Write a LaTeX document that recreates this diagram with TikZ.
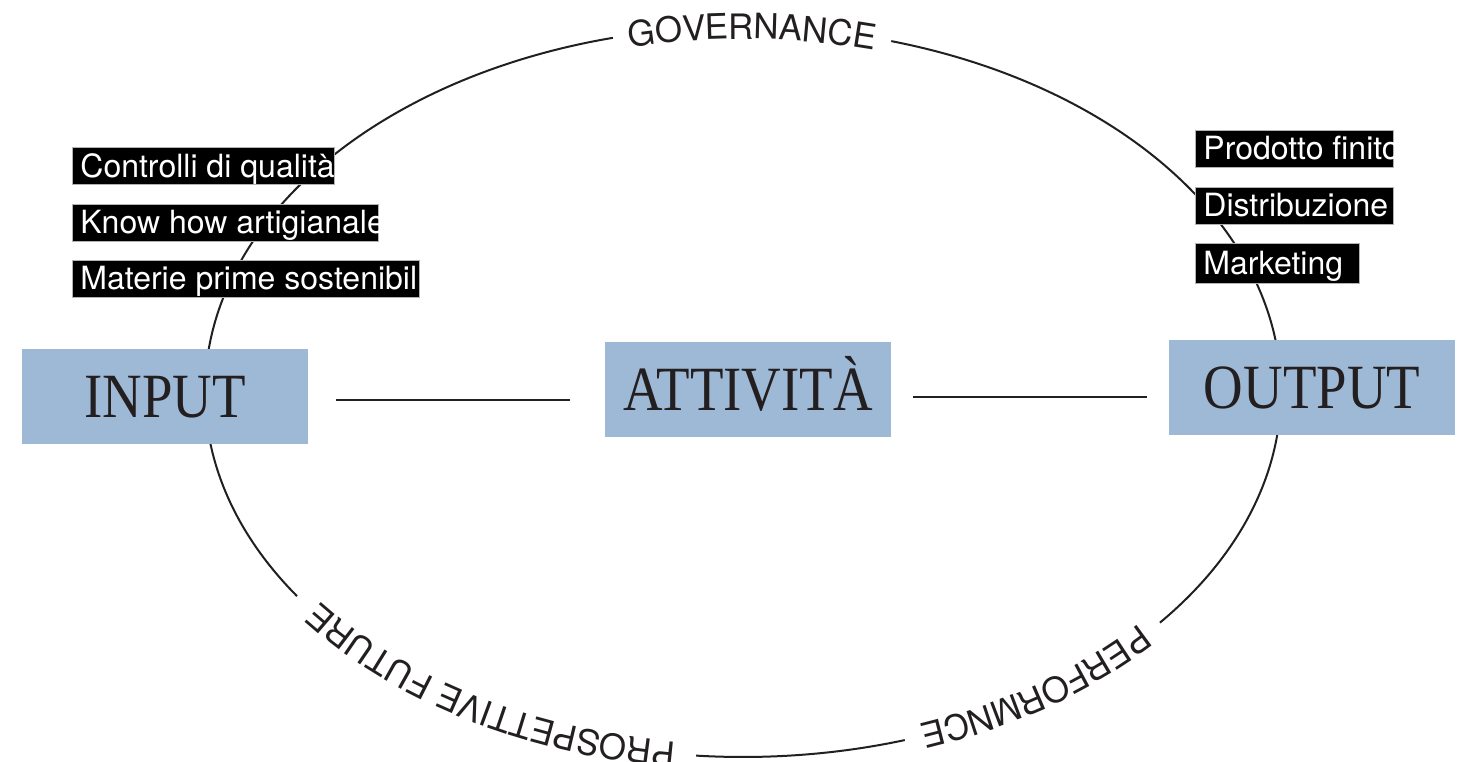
\documentclass[tikz,border=0pt]{standalone}
\usepackage{fontspec}
\usepackage{graphicx}
\usepackage{tikz}
\usetikzlibrary{decorations.text}
\setmainfont{Liberation Serif}
\newfontfamily\heros{TeX Gyre Heros}
\definecolor{ink}{HTML}{231F20}
\definecolor{steel}{RGB}{158,185,213}
\newcommand{\stagename}[1]{\scalebox{0.87}[1]{#1}}
\tikzstyle{stage} = [rectangle, fill=steel, minimum width=286pt, minimum height=95pt, inner sep=0pt, text=ink, font=\fontsize{63}{63}\selectfont, text height=42pt, text depth=0pt]
\tikzstyle{tag} = [rectangle, draw=gray!60, line width=0.8pt, fill=black, text=white, anchor=west, font=\heros\fontsize{32}{32}\selectfont, minimum height=37pt, text height=30pt, text depth=7pt, inner xsep=8pt, inner ysep=0pt]
\tikzstyle{ring} = [draw=ink, line width=2pt]
\tikzstyle{link} = [draw=ink, line width=1.6pt]
\tikzset{ring label/.style={decorate, decoration={text along path, text align=center, raise=-12pt, text color=ink, text={|\heros\fontsize{35}{35}\selectfont|#1}}}}

\begin{document}
\begin{tikzpicture}[x=1pt,y=1pt]
  \useasboundingbox (0,0) rectangle (1468,762);
  \coordinate (C) at (743,370);
  \path (C) ++(104:538pt and 365pt) coordinate (govA);
  \path (C) ++(214:538pt and 365pt) coordinate (futA);
  \path (C) ++(265:538pt and 365pt) coordinate (futB);
  \path (C) ++(287.5:538pt and 365pt) coordinate (perfA);
  \path (C) ++(320.8:538pt and 365pt) coordinate (perfB);

  % ring, broken where the labels sit
  \draw[ring] (govA) arc[start angle=104, end angle=214, x radius=538pt, y radius=365pt];
  \draw[ring] (futB) arc[start angle=265, end angle=287.5, x radius=538pt, y radius=365pt];
  \draw[ring] (perfB) arc[start angle=320.8, end angle=434, x radius=538pt, y radius=365pt];

  \path[ring label=GOVERNANCE] (govA) arc[start angle=104, end angle=74, x radius=538pt, y radius=365pt];
  \path[ring label=PROSPETTIVE FUTURE] (futB) arc[start angle=265, end angle=214, x radius=538pt, y radius=365pt];
  \path[ring label=PERFORMNCE] (perfB) arc[start angle=320.8, end angle=287.5, x radius=538pt, y radius=365pt];

  \node[stage] (input) at (165,365.5) {\stagename{INPUT}};
  \node[stage] (attivita) at (748,372.5) {\stagename{ATTIVITÀ}};
  \node[stage] (output) at (1312,374.5) {\stagename{OUTPUT}};

  \draw[link] ([shift={(28,-3.5)}]input.east) -- ([shift={(-35,-10.5)}]attivita.west);
  \draw[link] ([shift={(22,-7.5)}]attivita.east) -- ([shift={(-22,-9.5)}]output.west);

  \node[tag] (ctrl) at (72,596) {\makebox[246pt][l]{Controlli di qualità}};
  \node[tag] (know) at (72,539.5) {\makebox[290pt][l]{Know how artigianale}};
  \node[tag] (mat) at (72,483.5) {\makebox[331pt][l]{Materie prime sostenibil}};
  \node[tag] (prod) at (1195,613.5) {\makebox[182pt][l]{Prodotto finito}};
  \node[tag] (dist) at (1195,556.5) {\makebox[182pt][l]{Distribuzione}};
  \node[tag, minimum height=40pt] (mkt) at (1195,499) {\makebox[148pt][l]{Marketing}};
\end{tikzpicture}
\end{document}
